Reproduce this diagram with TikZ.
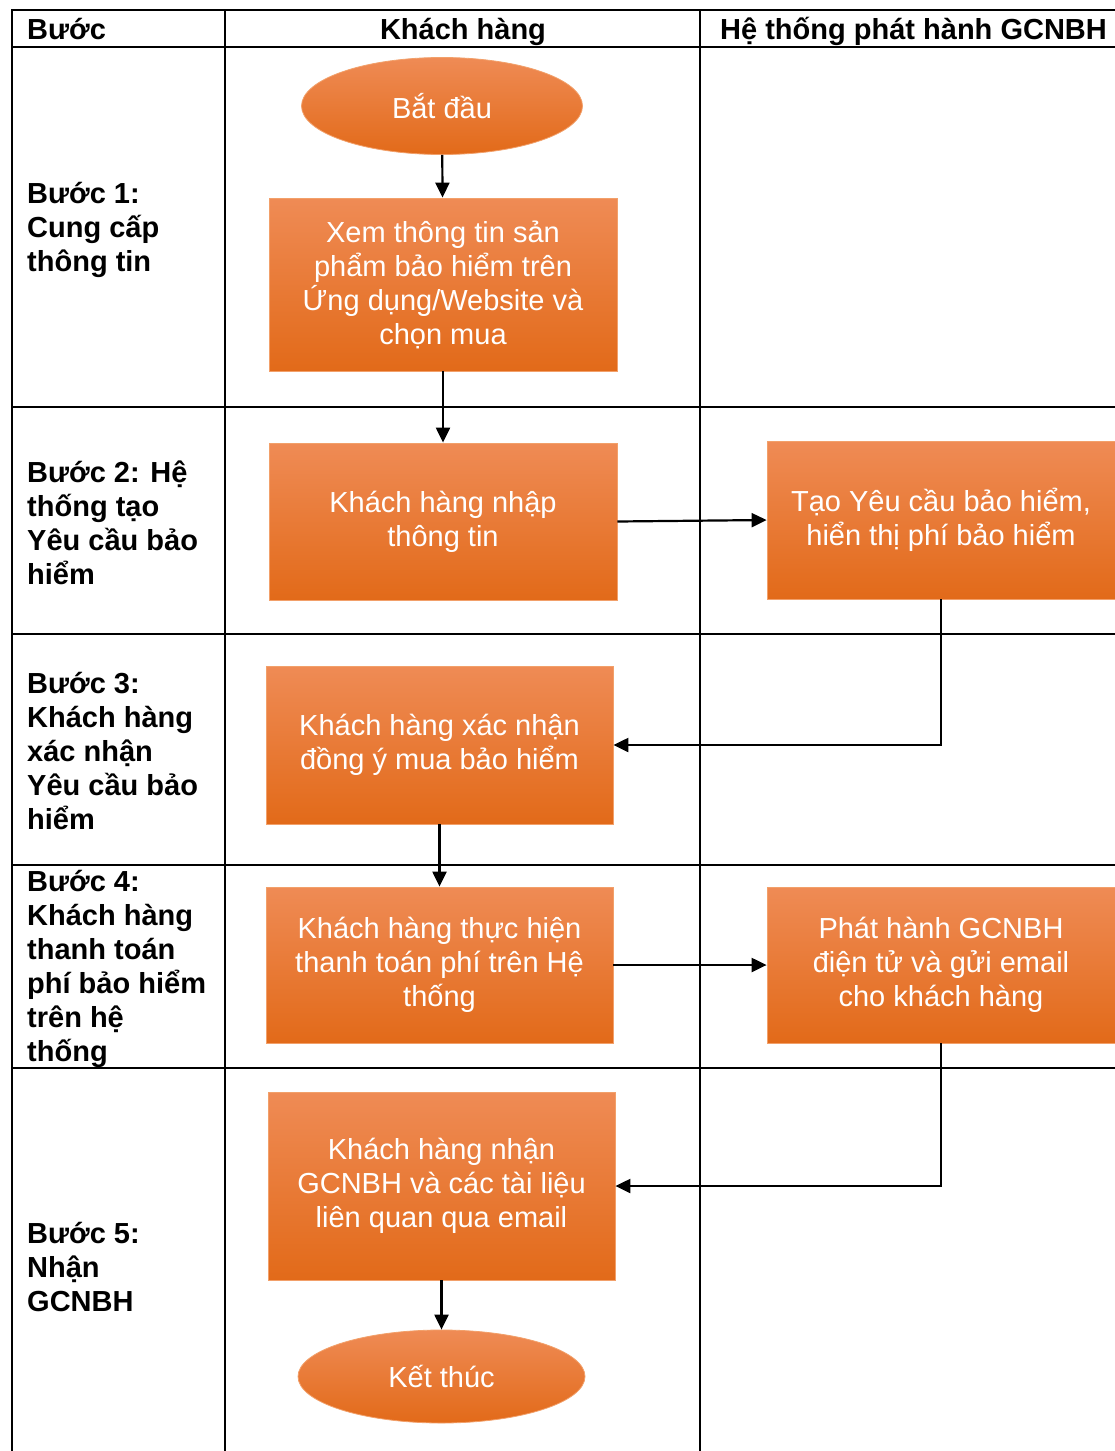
\documentclass[tikz,border=0pt]{standalone}
\usepackage{fontspec}
\setmainfont{Liberation Sans}
\usetikzlibrary{shapes.geometric,arrows.meta}
\definecolor{boxtop}{HTML}{EF8B55}
\definecolor{boxmid}{HTML}{F47D2C}
\definecolor{boxbot}{HTML}{E26A19}
\definecolor{boxline}{HTML}{F2A06A}

\begin{document}
\begin{tikzpicture}[x=1pt, y=-1pt,
        grid/.style = {line width=1.6pt},
        head/.style = {font=\fontsize{29}{34}\selectfont\bfseries, inner sep=0pt},
        lbl/.style = {head, align=left, anchor=west},
        proc/.style = {rectangle, draw=boxline, line width=0.8pt, top color=boxtop, middle color=boxmid, bottom color=boxbot, text=white, align=center, font=\fontsize{29}{34}\selectfont, inner sep=0pt},
        term/.style = {proc, ellipse},
        flow/.style = {line width=2.2pt, -{Triangle[length=15pt,width=14pt]}}]
        \useasboundingbox[fill=white] (0,0) rectangle (1114,1451);

        % swimlane table
        \draw[grid] (12,1460) -- (12,10) -- (1130,10);
        \draw[grid] (225,10) -- (225,1460);
        \draw[grid] (700,10) -- (700,1460);
        \foreach \y in {47,407,634,865,1068}
            \draw[grid] (12,\y) -- (1130,\y);

        \node[head, anchor=base west] (hstep) at (27,39) {Bước};
        \node[head, anchor=base] (hcust) at (463,39) {Khách hàng};
        \node[head, anchor=base west] (hsys) at (720,39) {Hệ thống phát hành GCNBH};

        \node[lbl] (s1) at (27,230) {Bước 1:\\Cung cấp\\thông tin};
        \node[lbl] (s2) at (27,523) {Bước 2: Hệ\\thống tạo\\Yêu cầu bảo\\hiểm};
        \node[lbl] (s3) at (27,751) {Bước 3:\\Khách hàng\\xác nhận\\Yêu cầu bảo\\hiểm};
        \node[lbl] (s4) at (27,969) {Bước 4:\\Khách hàng\\thanh toán\\phí bảo hiểm\\trên hệ\\thống};
        \node[lbl] (s5) at (27,1267) {Bước 5:\\Nhận\\GCNBH};

        % flow nodes
        \node[term, minimum width=281pt, minimum height=97pt] (start) at (442,106) {Bắt đầu};
        \node[proc, minimum width=348pt, minimum height=173pt] (view) at (443,284.5) {Xem thông tin sản\\phẩm bảo hiểm trên\\Ứng dụng/Website và\\chọn mua};
        \node[proc, minimum width=348pt, minimum height=157pt] (input) at (443,521.5) {Khách hàng nhập\\thông tin};
        \node[proc, minimum width=348pt, minimum height=158pt] (request) at (941,520) {Tạo Yêu cầu bảo hiểm,\\hiển thị phí bảo hiểm};
        \node[proc, minimum width=347pt, minimum height=158pt] (confirm) at (439.5,745) {Khách hàng xác nhận\\đồng ý mua bảo hiểm};
        \node[proc, minimum width=347pt, minimum height=156pt] (pay) at (439.5,965) {Khách hàng thực hiện\\thanh toán phí trên Hệ\\thống};
        \node[proc, minimum width=348pt, minimum height=156pt] (issue) at (941,965) {Phát hành GCNBH\\điện tử và gửi email\\cho khách hàng};
        \node[proc, minimum width=347pt, minimum height=188pt] (receive) at (441.5,1186) {Khách hàng nhận\\GCNBH và các tài liệu\\liên quan qua email};
        \node[term, minimum width=287pt, minimum height=93pt] (stop) at (441.5,1376.5) {Kết thúc};

        \draw[flow] (start) -- (view);
        \draw[flow] (view) -- (input);
        \draw[flow] (input.east) -- (request.west);
        \draw[flow] (request.south) |- (confirm.east);
        \draw[flow] (confirm) -- (pay);
        \draw[flow] (pay) -- (issue);
        \draw[flow] (issue.south) |- (receive.east);
        \draw[flow] (receive) -- (stop);
    \end{tikzpicture}
\end{document}
